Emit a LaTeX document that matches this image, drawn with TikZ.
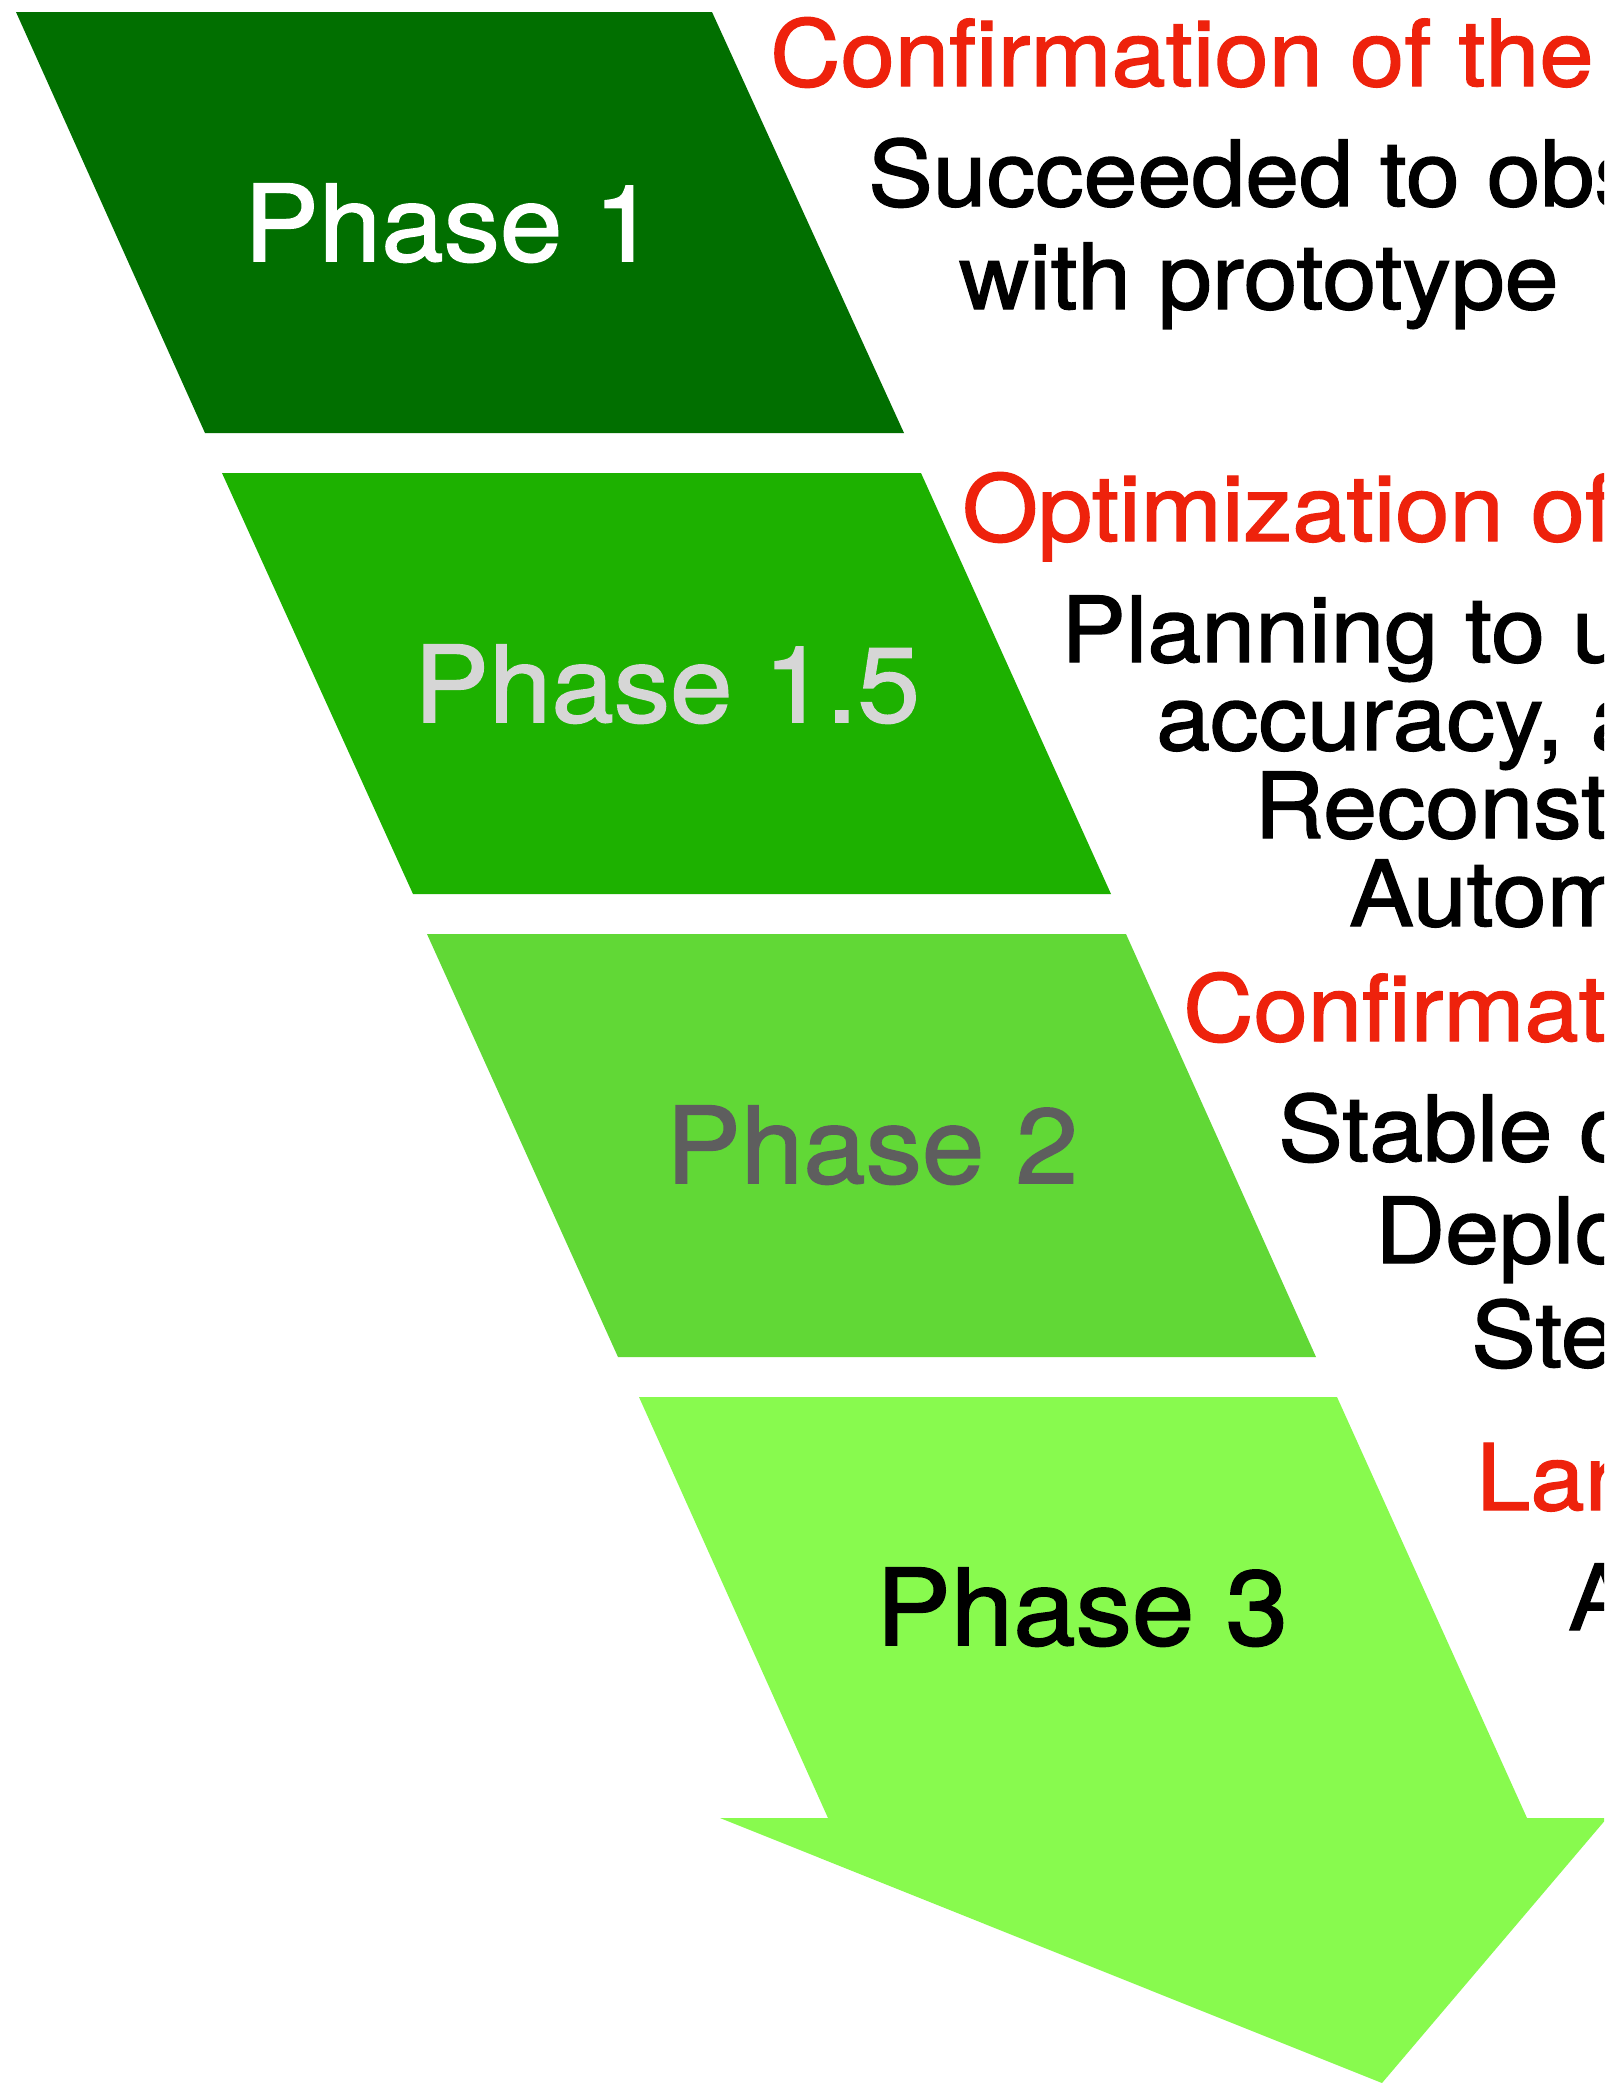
\documentclass[tikz,border=0pt]{standalone}
\usepackage{fontspec}
\setmainfont{TeX Gyre Heros}
\newfontfamily\headfont{TeX Gyre Heros}[FakeBold=1.5, FakeStretch=1.06]
\newfontfamily\bodyfont{TeX Gyre Heros}[FakeBold=1.5, FakeStretch=1.065]
\newfontfamily\phasefont{TeX Gyre Heros}[FakeBold=1.5, FakeStretch=1.06]
\definecolor{gA}{HTML}{016F00}
\definecolor{gB}{HTML}{1DB100}
\definecolor{gC}{HTML}{61D836}
\definecolor{gD}{HTML}{88FA4E}
\definecolor{kred}{HTML}{EE220C}
\definecolor{lgray}{HTML}{D6D6D6}
\definecolor{dgray}{HTML}{5E5E5E}
\begin{document}
\begin{tikzpicture}[x=1pt,y=-1pt,
  phaselabel/.style={font=\phasefont\fontsize{106}{110}\selectfont, anchor=base, inner sep=0pt},
  headtext/.style={text=kred, font=\headfont\fontsize{92}{100}\selectfont, anchor=base west, inner sep=0pt},
  bodytext/.style={text=black, font=\bodyfont\fontsize{91}{100}\selectfont, anchor=base west, inner sep=0pt}]
\useasboundingbox (0,0) rectangle (1604,2083);
\clip (0,0) rectangle (1604,2083);
\fill[white] (0,0) rectangle (1604,2083);
% parallelograms
\fill[gA] (16,12) -- (712,12) -- (904,433) -- (205,433) -- cycle;
\fill[gB] (222,473) -- (921,473) -- (1111,894) -- (413,894) -- cycle;
\fill[gC] (427,934) -- (1126,934) -- (1316,1357) -- (618,1357) -- cycle;
\fill[gD] (639,1397) -- (1337,1397) -- (1527,1818) -- (1607,1818) -- (1382,2083) -- (720,1818) -- (828,1818) -- cycle;
% phase labels
\node[phaselabel, text=white] (p1) at (450,261) {Phase 1};
\node[phaselabel, text=lgray] (p15) at (667,722) {Phase 1.5};
\node[phaselabel, text=dgray] (p2) at (872,1183) {Phase 2};
\node[phaselabel, text=black] (p3) at (1082,1645) {Phase 3};
% texts
\node[headtext] (h1) at (770,86) {Confirmation of the};
\node[bodytext] (b1a) at (868,206) {Succeeded to obs};
\node[bodytext] (b1b) at (959,309) {with prototype};
\node[headtext] (h2) at (962,541) {Optimization of};
\node[bodytext] (b2a) at (1061,662) {Planning to u};
\node[bodytext] (b2b) at (1156,750) {accuracy, a};
\node[bodytext] (b2c) at (1254,838) {Reconst};
\node[bodytext] (b2d) at (1349,926) {Autom};
\node[headtext] (h3) at (1183,1041) {Confirmat};
\node[bodytext] (b3a) at (1278,1161) {Stable c};
\node[bodytext] (b3b) at (1375,1263) {Deplo};
\node[bodytext] (b3c) at (1471,1367) {Ste};
\node[headtext] (h4) at (1476,1510) {Lar};
\node[bodytext] (b4a) at (1568,1630) {A};
\end{tikzpicture}
\end{document}
